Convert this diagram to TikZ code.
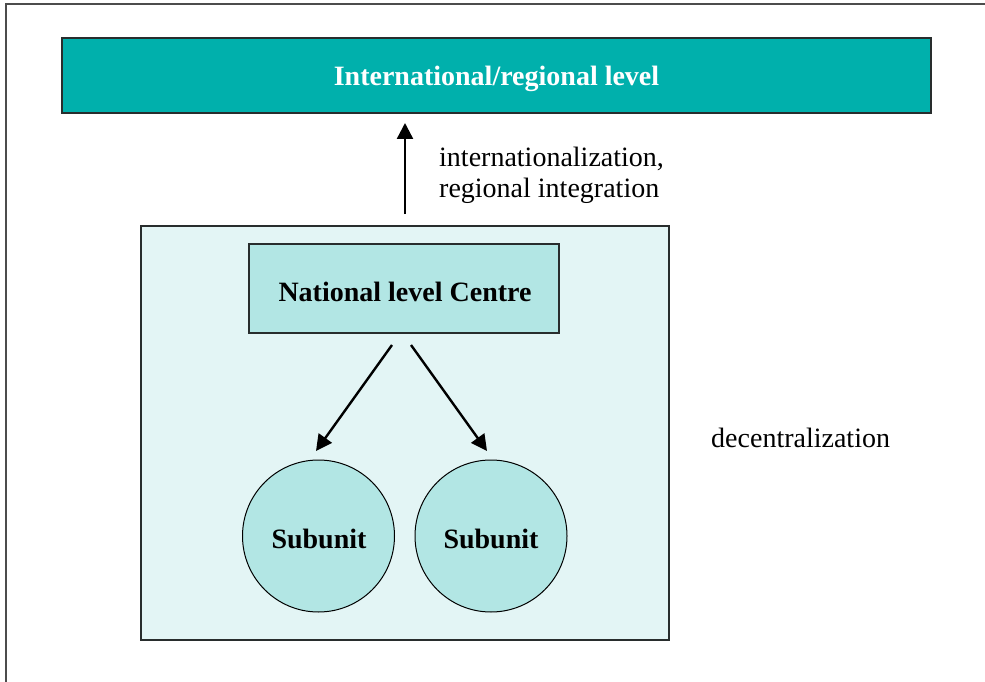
\documentclass[tikz,border=0pt]{standalone}
\usepackage{fontspec}
\setmainfont{Liberation Serif}
\usetikzlibrary{arrows.meta}
\definecolor{teal1}{RGB}{0,176,172}
\definecolor{lightbg}{RGB}{227,245,245}
\definecolor{boxfill}{RGB}{178,230,228}
\definecolor{edge}{RGB}{40,45,45}
\tikzset{
  lbl/.style={font=\fontsize{28}{31}\selectfont, align=left, anchor=west, inner sep=0pt},
  bfont/.style={font=\fontsize{28}{31}\selectfont\bfseries},
  conn/.style={line width=2.4pt, -{Triangle[length=16pt,width=16pt]}},
  frame/.style={line width=1.2pt, draw=edge}
}
\begin{document}
\begin{tikzpicture}[x=1pt,y=-1pt]
\useasboundingbox (0,0) rectangle (985,682);
% outer frame (top and left)
\draw[line width=1.5pt, draw=black!70] (985,4) -- (6,4) -- (6,682);
% top box
\node[frame, fill=teal1, line width=1.8pt, minimum width=869pt, minimum height=75pt, inner sep=0pt] (intl) at (496.5,75.5) {};
\node[text=white, bfont, inner sep=0pt] (intlt) at (496.5,79) {International/regional level};
% big light box
\node[frame, fill=lightbg, minimum width=528pt, minimum height=414pt, inner sep=0pt] (nat) at (405,433) {};
% national centre
\node[frame, fill=boxfill, minimum width=310pt, minimum height=89pt, inner sep=0pt] (centre) at (404,288.5) {};
\node[bfont, inner sep=0pt] (centret) at (405,292) {National level Centre};
% subunits
\node[draw=black, line width=1pt, fill=boxfill, circle, minimum size=152pt, inner sep=0pt] (s1) at (318.5,536) {};
\node[bfont, inner sep=0pt] (s1t) at (319,539) {Subunit};
\node[draw=black, line width=1pt, fill=boxfill, circle, minimum size=152pt, inner sep=0pt] (s2) at (491,536) {};
\node[bfont, inner sep=0pt] (s2t) at (491,539) {Subunit};
% arrows
\coordinate (a0) at (405,214);
\coordinate (a1) at (405,123);
\draw[conn] (a0) -- (a1);
\coordinate (l0) at (392,345);
\coordinate (l1) at (316,451);
\coordinate (r0) at (411,345);
\coordinate (r1) at (487,451);
\draw[conn] (l0) -- (l1);
\draw[conn] (r0) -- (r1);
% labels
\node[lbl] (lab1) at (439,175) {internationalization,\\regional integration};
\node[lbl] (lab2) at (711,438) {decentralization};
\end{tikzpicture}
\end{document}
